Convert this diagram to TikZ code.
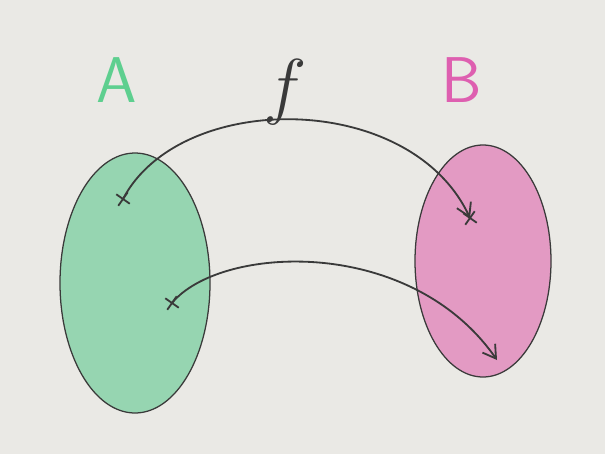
\documentclass[tikz,border=0pt]{standalone}
\usepackage{amsmath}
\usepackage{xcolor}
\usetikzlibrary{arrows.meta,shapes.misc}

\definecolor{paper}{HTML}{EAE9E5}
\definecolor{setgreen}{HTML}{96D5B1}
\definecolor{setpink}{HTML}{E39AC3}
\definecolor{labelgreen}{HTML}{5ECF8F}
\definecolor{labelpink}{HTML}{DE5FB0}
\definecolor{pencil}{HTML}{3A3A3A}

\tikzset{
  setshape/.style={draw=pencil, line width=0.9pt},
  mapsto/.style={draw=pencil, line width=1.3pt, -{Straight Barb[length=9pt,width=11pt]}},
  xmark/.style={cross out, draw=pencil, line width=1.3pt, minimum size=7pt, inner sep=0pt, rotate=10},
  setlabel/.style={font=\fontsize{46}{50}\selectfont\sffamily}
}

\begin{document}
\begin{tikzpicture}[x=0.025cm, y=-0.025cm]
  % Paper
  \fill[paper] (0,0) rectangle (605,454);
  \useasboundingbox (0,0) rectangle (605,454);

  % Draw the two sets
  \draw[setshape, fill=setgreen] (135,283) ellipse [x radius=75, y radius=130];
  \draw[setshape, fill=setpink] (483,261) ellipse [x radius=68, y radius=116];

  % Draw the set labels
  \node[setlabel, text=labelgreen] (labelA) at (117,80) {A};
  \node[setlabel, text=labelpink] (labelB) at (462,80) {B};
  \node[font=\Huge, scale=2.1, text=pencil] (fname) at (285,92) {$f$};

  % Points in the sets
  \coordinate (a1) at (123,199);
  \coordinate (a2) at (172,303);
  \coordinate (b1) at (470,218);
  \coordinate (b2) at (497,360);
  \node[xmark] (ma1) at (a1) {};
  \node[xmark] (ma2) at (a2) {};
  \node[xmark] (mb1) at (b1) {};

  % Draw the mapping
  \draw[mapsto] (a1) .. controls (180,90) and (410,90) .. (b1);
  \draw[mapsto] (a2) .. controls (220,245) and (410,235) .. (b2);
\end{tikzpicture}
\end{document}
